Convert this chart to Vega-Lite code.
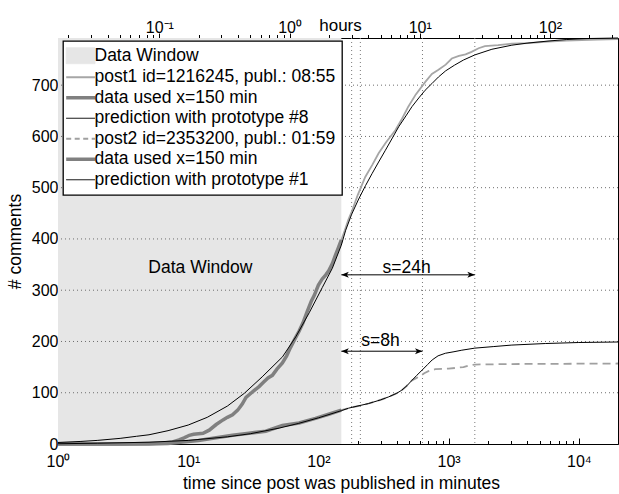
{
  "$schema": "https://vega.github.io/schema/vega-lite/v6.json",
  "width": 560,
  "height": 406,
  "autosize": {"type": "none"},
  "padding": {"left": 58, "top": 38, "right": 1, "bottom": 50},
  "background": "white",
  "config": {
    "font": "Liberation Sans",
    "view": {"stroke": "black", "strokeWidth": 1},
    "axis": {
      "labelColor": "black", "titleColor": "black", "titleFontWeight": "normal",
      "domainColor": "black", "tickColor": "black", "labelFontSize": 16, "titleFontSize": 17.5,
      "labelOverlap": false, "labelFlush": false, "zindex": 1, "labelFont": "Liberation Sans", "titleFont": "Liberation Sans", "grid": false
    }
  },
  "datasets": {
    "curves": [
      {"s": "b", "x": 1, "y": 0}, {"s": "b", "x": 3, "y": 0}, {"s": "b", "x": 5, "y": 1}, {"s": "b", "x": 6.5, "y": 2}, {"s": "b", "x": 7.6, "y": 4}, {"s": "b", "x": 8.5, "y": 8}, {"s": "b", "x": 9.3, "y": 12}, {"s": "b", "x": 10.2, "y": 17}, {"s": "b", "x": 11, "y": 19}, {"s": "b", "x": 12, "y": 20}, {"s": "b", "x": 13, "y": 21}, {"s": "b", "x": 14.5, "y": 27}, {"s": "b", "x": 16.4, "y": 38}, {"s": "b", "x": 18.5, "y": 47}, {"s": "b", "x": 20, "y": 52}, {"s": "b", "x": 21.9, "y": 57}, {"s": "b", "x": 24, "y": 66}, {"s": "b", "x": 26, "y": 78}, {"s": "b", "x": 27.8, "y": 91}, {"s": "b", "x": 30, "y": 98}, {"s": "b", "x": 32, "y": 104}, {"s": "b", "x": 35, "y": 112}, {"s": "b", "x": 38, "y": 121}, {"s": "b", "x": 41, "y": 129}, {"s": "b", "x": 44.3, "y": 134}, {"s": "b", "x": 48, "y": 146}, {"s": "b", "x": 52.9, "y": 158}, {"s": "b", "x": 57, "y": 172}, {"s": "b", "x": 61, "y": 188}, {"s": "b", "x": 66, "y": 205}, {"s": "b", "x": 71, "y": 220}, {"s": "b", "x": 76, "y": 236}, {"s": "b", "x": 82, "y": 258}, {"s": "b", "x": 88, "y": 278}, {"s": "b", "x": 93, "y": 290}, {"s": "b", "x": 100, "y": 310}, {"s": "b", "x": 107, "y": 322}, {"s": "b", "x": 114, "y": 330}, {"s": "b", "x": 120, "y": 338}, {"s": "b", "x": 128, "y": 352}, {"s": "b", "x": 135, "y": 368}, {"s": "b", "x": 142, "y": 382}, {"s": "b", "x": 150, "y": 398},
      {"s": "b", "x": 160, "y": 418}, {"s": "b", "x": 170, "y": 438}, {"s": "b", "x": 182, "y": 456}, {"s": "b", "x": 200, "y": 485}, {"s": "b", "x": 229, "y": 521}, {"s": "b", "x": 260, "y": 545}, {"s": "b", "x": 290, "y": 567}, {"s": "b", "x": 330, "y": 588}, {"s": "b", "x": 390, "y": 612}, {"s": "b", "x": 440, "y": 635}, {"s": "b", "x": 490, "y": 658}, {"s": "b", "x": 560, "y": 682}, {"s": "b", "x": 660, "y": 706}, {"s": "b", "x": 744, "y": 722}, {"s": "b", "x": 836, "y": 730}, {"s": "b", "x": 950, "y": 740}, {"s": "b", "x": 1058, "y": 752}, {"s": "b", "x": 1200, "y": 757}, {"s": "b", "x": 1350, "y": 760}, {"s": "b", "x": 1500, "y": 765}, {"s": "b", "x": 1700, "y": 772}, {"s": "b", "x": 1900, "y": 776}, {"s": "b", "x": 2400, "y": 778}, {"s": "b", "x": 3060, "y": 781}, {"s": "b", "x": 4100, "y": 782}, {"s": "b", "x": 5800, "y": 785}, {"s": "b", "x": 8000, "y": 787}, {"s": "b", "x": 13900, "y": 789}, {"s": "b", "x": 20000, "y": 790},

      {"s": "c", "x": 1, "y": 0}, {"s": "c", "x": 3, "y": 0}, {"s": "c", "x": 5, "y": 1}, {"s": "c", "x": 6.5, "y": 2}, {"s": "c", "x": 7.6, "y": 4}, {"s": "c", "x": 8.5, "y": 8}, {"s": "c", "x": 9.3, "y": 12}, {"s": "c", "x": 10.2, "y": 17}, {"s": "c", "x": 11, "y": 19}, {"s": "c", "x": 12, "y": 20}, {"s": "c", "x": 13, "y": 21}, {"s": "c", "x": 14.5, "y": 27}, {"s": "c", "x": 16.4, "y": 38}, {"s": "c", "x": 18.5, "y": 47}, {"s": "c", "x": 20, "y": 52}, {"s": "c", "x": 21.9, "y": 57}, {"s": "c", "x": 24, "y": 66}, {"s": "c", "x": 26, "y": 78}, {"s": "c", "x": 27.8, "y": 91}, {"s": "c", "x": 30, "y": 98}, {"s": "c", "x": 32, "y": 104}, {"s": "c", "x": 35, "y": 112}, {"s": "c", "x": 38, "y": 121}, {"s": "c", "x": 41, "y": 129}, {"s": "c", "x": 44.3, "y": 134}, {"s": "c", "x": 48, "y": 146}, {"s": "c", "x": 52.9, "y": 158}, {"s": "c", "x": 57, "y": 172}, {"s": "c", "x": 61, "y": 188}, {"s": "c", "x": 66, "y": 205}, {"s": "c", "x": 71, "y": 220}, {"s": "c", "x": 76, "y": 236}, {"s": "c", "x": 82, "y": 258}, {"s": "c", "x": 88, "y": 278}, {"s": "c", "x": 93, "y": 290}, {"s": "c", "x": 100, "y": 310}, {"s": "c", "x": 107, "y": 322}, {"s": "c", "x": 114, "y": 330}, {"s": "c", "x": 120, "y": 338}, {"s": "c", "x": 128, "y": 352}, {"s": "c", "x": 135, "y": 368}, {"s": "c", "x": 142, "y": 382}, {"s": "c", "x": 150, "y": 398},

      {"s": "d", "x": 1, "y": 3}, {"s": "d", "x": 1.5, "y": 5}, {"s": "d", "x": 2, "y": 7}, {"s": "d", "x": 3, "y": 11}, {"s": "d", "x": 4, "y": 15}, {"s": "d", "x": 5, "y": 18}, {"s": "d", "x": 7, "y": 26}, {"s": "d", "x": 10, "y": 37}, {"s": "d", "x": 14, "y": 52}, {"s": "d", "x": 20, "y": 74}, {"s": "d", "x": 27, "y": 99}, {"s": "d", "x": 37, "y": 131}, {"s": "d", "x": 53, "y": 170}, {"s": "d", "x": 67, "y": 209}, {"s": "d", "x": 85, "y": 256}, {"s": "d", "x": 107, "y": 305}, {"s": "d", "x": 128, "y": 343}, {"s": "d", "x": 150, "y": 388}, {"s": "d", "x": 162, "y": 417}, {"s": "d", "x": 180, "y": 448}, {"s": "d", "x": 204, "y": 478}, {"s": "d", "x": 230, "y": 504}, {"s": "d", "x": 259, "y": 528}, {"s": "d", "x": 290, "y": 550}, {"s": "d", "x": 327, "y": 573}, {"s": "d", "x": 370, "y": 597}, {"s": "d", "x": 414, "y": 619}, {"s": "d", "x": 470, "y": 640}, {"s": "d", "x": 523, "y": 658}, {"s": "d", "x": 590, "y": 675}, {"s": "d", "x": 660, "y": 690}, {"s": "d", "x": 744, "y": 703}, {"s": "d", "x": 836, "y": 716}, {"s": "d", "x": 950, "y": 728}, {"s": "d", "x": 1110, "y": 739}, {"s": "d", "x": 1300, "y": 749}, {"s": "d", "x": 1590, "y": 759}, {"s": "d", "x": 2150, "y": 770}, {"s": "d", "x": 3060, "y": 778}, {"s": "d", "x": 4000, "y": 782}, {"s": "d", "x": 5800, "y": 786}, {"s": "d", "x": 8000, "y": 789}, {"s": "d", "x": 12000, "y": 791}, {"s": "d", "x": 20000, "y": 792},

      {"s": "e", "x": 1, "y": 0}, {"s": "e", "x": 5, "y": 0}, {"s": "e", "x": 7, "y": 1}, {"s": "e", "x": 9.1, "y": 4}, {"s": "e", "x": 12, "y": 7}, {"s": "e", "x": 16.4, "y": 12}, {"s": "e", "x": 21.9, "y": 17}, {"s": "e", "x": 29.3, "y": 21}, {"s": "e", "x": 39.4, "y": 25}, {"s": "e", "x": 52.9, "y": 36}, {"s": "e", "x": 71, "y": 41}, {"s": "e", "x": 95, "y": 50}, {"s": "e", "x": 120, "y": 58}, {"s": "e", "x": 150, "y": 66},
      {"s": "e", "x": 171, "y": 70}, {"s": "e", "x": 210, "y": 75}, {"s": "e", "x": 243, "y": 79}, {"s": "e", "x": 300, "y": 86}, {"s": "e", "x": 347, "y": 92}, {"s": "e", "x": 400, "y": 99}, {"s": "e", "x": 437, "y": 105}, {"s": "e", "x": 480, "y": 114}, {"s": "e", "x": 522, "y": 124}, {"s": "e", "x": 560, "y": 128}, {"s": "e", "x": 600, "y": 132}, {"s": "e", "x": 650, "y": 138}, {"s": "e", "x": 700, "y": 142}, {"s": "e", "x": 790, "y": 146}, {"s": "e", "x": 1000, "y": 147}, {"s": "e", "x": 1300, "y": 150}, {"s": "e", "x": 1430, "y": 153}, {"s": "e", "x": 1590, "y": 155}, {"s": "e", "x": 3000, "y": 156}, {"s": "e", "x": 20000, "y": 157},

      {"s": "f", "x": 1, "y": 0}, {"s": "f", "x": 5, "y": 0}, {"s": "f", "x": 7, "y": 1}, {"s": "f", "x": 9.1, "y": 4}, {"s": "f", "x": 12, "y": 7}, {"s": "f", "x": 16.4, "y": 12}, {"s": "f", "x": 21.9, "y": 17}, {"s": "f", "x": 29.3, "y": 21}, {"s": "f", "x": 39.4, "y": 25}, {"s": "f", "x": 52.9, "y": 36}, {"s": "f", "x": 71, "y": 41}, {"s": "f", "x": 95, "y": 50}, {"s": "f", "x": 120, "y": 58}, {"s": "f", "x": 150, "y": 66},

      {"s": "g", "x": 1, "y": 0.5}, {"s": "g", "x": 2, "y": 1.5}, {"s": "g", "x": 5, "y": 3.5}, {"s": "g", "x": 10, "y": 7}, {"s": "g", "x": 20, "y": 14}, {"s": "g", "x": 30, "y": 20}, {"s": "g", "x": 50, "y": 31}, {"s": "g", "x": 70, "y": 40}, {"s": "g", "x": 100, "y": 51}, {"s": "g", "x": 150, "y": 65}, {"s": "g", "x": 171, "y": 70}, {"s": "g", "x": 243, "y": 79}, {"s": "g", "x": 300, "y": 86}, {"s": "g", "x": 347, "y": 92}, {"s": "g", "x": 400, "y": 99}, {"s": "g", "x": 437, "y": 105}, {"s": "g", "x": 480, "y": 114}, {"s": "g", "x": 522, "y": 124}, {"s": "g", "x": 570, "y": 134}, {"s": "g", "x": 625, "y": 144}, {"s": "g", "x": 690, "y": 155}, {"s": "g", "x": 748, "y": 164}, {"s": "g", "x": 830, "y": 172}, {"s": "g", "x": 945, "y": 177}, {"s": "g", "x": 1100, "y": 180}, {"s": "g", "x": 1263, "y": 183}, {"s": "g", "x": 1590, "y": 187}, {"s": "g", "x": 2200, "y": 190}, {"s": "g", "x": 3060, "y": 193}, {"s": "g", "x": 5530, "y": 196}, {"s": "g", "x": 10000, "y": 198}, {"s": "g", "x": 20000, "y": 199}
    ],
    "arrows": [
      {"x": 150, "xe": 1590, "y": 330},
      {"x": 150, "xe": 630, "y": 181}
    ],
    "notes": [
      {"x": 12.4, "y": 333, "t": "Data Window"},
      {"x": 476, "y": 333, "t": "s=24h"},
      {"x": 300, "y": 191.5, "t": "s=8h"}
    ],
    "vlines": [{"x": 180}, {"x": 210}, {"x": 630}, {"x": 1590}],
    "hlines": [{"y": 100}, {"y": 200}, {"y": 300}, {"y": 400}, {"y": 500}, {"y": 600}, {"y": 700}]
  },
  "layer": [
    {
      "layer": [
        {
          "data": {"values": [{"x": 1, "xe": 150}]},
          "mark": {"type": "rect", "color": "#e6e6e6"},
          "encoding": {
            "x": {
              "field": "x", "type": "quantitative",
              "scale": {"type": "log", "domain": [1, 20000], "nice": false},
              "axis": {
                "orient": "bottom",
                "values": [1,2,3,4,5,6,7,8,9,10,20,30,40,50,60,70,80,90,100,200,300,400,500,600,700,800,900,1000,2000,3000,4000,5000,6000,7000,8000,9000,10000],
                "labelExpr": "datum.value == 1 ? '10⁰' : datum.value == 10 ? '10¹' : datum.value == 100 ? '10²' : datum.value == 1000 ? '10³' : datum.value == 10000 ? '10⁴' : ''",
                "tickSize": {"condition": {"test": "abs(log(datum.value)/LN10 - round(log(datum.value)/LN10)) < 0.001", "value": -6}, "value": -3.5},
                "grid": false,
                "labelPadding": 15,
                "title": "time since post was published in minutes",
                "titleX": 283, "titleY": 44, "titleBaseline": "alphabetic", "titleAlign": "center"
              }
            },
            "x2": {"field": "xe"},
            "y": {"datum": 0, "type": "quantitative", "scale": {"domain": [0, 792], "nice": false}},
            "y2": {"datum": 792}
          }
        },
        {
          "data": {"name": "hlines"},
          "mark": {"type": "rule", "color": "#6e6e6e", "strokeDash": [1, 3], "strokeWidth": 1},
          "encoding": {"y": {"field": "y", "type": "quantitative", "scale": {"domain": [0, 792], "nice": false}}}
        },
        {
          "data": {"name": "vlines"},
          "mark": {"type": "rule", "color": "#7a7a7a", "strokeDash": [1, 3], "strokeWidth": 1},
          "encoding": {"x": {"field": "x", "type": "quantitative", "scale": {"type": "log", "domain": [1, 20000], "nice": false}}}
        },
        {
          "data": {"name": "curves"},
          "transform": [{"filter": "datum.s === 'b'"}],
          "mark": {"type": "line", "strokeWidth": 1.8},
          "encoding": {
            "x": {"field": "x", "type": "quantitative", "scale": {"type": "log", "domain": [1, 20000], "nice": false}},
            "y": {
              "field": "y", "type": "quantitative", "scale": {"domain": [0, 792], "nice": false},
              "axis": {
                "values": [0,100,200,300,400,500,600,700],
                "tickSize": -4,
                "labelPadding": 4,
                "grid": false,
                "title": "# comments",
                "titleX": -38, "titleY": 203, "titleBaseline": "alphabetic", "titleAlign": "center", "titleAngle": -90
              }
            },
            "color": {
              "field": "s", "type": "nominal",
              "scale": {"domain": ["a","b","c","d","e","f","g"], "range": ["#e6e6e6","#a6a6a6","#808080","#000000","#a0a0a0","#808080","#000000"]},
              "legend": {
                "orient": "none", "legendX": 5, "legendY": 3, "title": null,
                "labelExpr": "datum.value == 'a' ? 'Data Window' : datum.value == 'b' ? 'post1 id=1216245, publ.: 08:55' : datum.value == 'c' ? 'data used x=150 min' : datum.value == 'd' ? 'prediction with prototype #8' : datum.value == 'e' ? 'post2 id=2353200, publ.: 01:59' : datum.value == 'f' ? 'data used x=150 min' : 'prediction with prototype #1'",
                "labelFontSize": 17.5, "labelColor": "black", "labelFont": "Liberation Sans",
                "labelOffset": 8, "labelLimit": 400,
                "symbolSize": 441, "rowPadding": 1.5, "padding": 6,
                "fillColor": "white", "strokeColor": "black", "zindex": 2,
                "encode": {
                  "legend": {"update": {"strokeWidth": {"value": 1.3}}},
                  "symbols": {
                    "update": {
                      "shape": {"signal": "datum.value == 'a' ? 'M-1.1,-0.76H1.64V0.76H-1.1Z' : 'M-1.1,0H1.64'"},
                      "fill": {"signal": "datum.value == 'a' ? '#e6e6e6' : 'transparent'"},
                      "stroke": {"signal": "datum.value == 'a' ? 'transparent' : datum.value == 'b' ? '#a6a6a6' : datum.value == 'e' ? '#a0a0a0' : (datum.value == 'c' || datum.value == 'f') ? '#808080' : '#000000'"},
                      "strokeWidth": {"signal": "(datum.value == 'c' || datum.value == 'f') ? 3.5 : (datum.value == 'b' || datum.value == 'e') ? 1.8 : 1"},
                      "strokeDash": {"signal": "datum.value == 'e' ? [5, 3.5] : [1, 0]"},
                      "opacity": {"value": 1}
                    }
                  }
                }
              }
            }
          }
        },
        {
          "data": {"name": "curves"},
          "transform": [{"filter": "datum.s === 'e'"}],
          "mark": {"type": "line", "strokeWidth": 1.8, "strokeDash": [8, 5]},
          "encoding": {
            "x": {"field": "x", "type": "quantitative", "scale": {"type": "log", "domain": [1, 20000], "nice": false}},
            "y": {"field": "y", "type": "quantitative", "scale": {"domain": [0, 792], "nice": false}},
            "color": {"field": "s", "type": "nominal"}
          }
        },
        {
          "data": {"name": "curves"},
          "transform": [{"filter": "datum.s === 'c' || datum.s === 'f'"}],
          "mark": {"type": "line", "strokeWidth": 3.5},
          "encoding": {
            "x": {"field": "x", "type": "quantitative", "scale": {"type": "log", "domain": [1, 20000], "nice": false}},
            "y": {"field": "y", "type": "quantitative", "scale": {"domain": [0, 792], "nice": false}},
            "color": {"field": "s", "type": "nominal"}
          }
        },
        {
          "data": {"name": "curves"},
          "transform": [{"filter": "datum.s === 'd' || datum.s === 'g'"}],
          "mark": {"type": "line", "strokeWidth": 1},
          "encoding": {
            "x": {"field": "x", "type": "quantitative", "scale": {"type": "log", "domain": [1, 20000], "nice": false}},
            "y": {"field": "y", "type": "quantitative", "scale": {"domain": [0, 792], "nice": false}},
            "color": {"field": "s", "type": "nominal"}
          }
        },
        {
          "data": {"name": "arrows"},
          "mark": {"type": "rule", "color": "black", "strokeWidth": 1},
          "encoding": {
            "x": {"field": "x", "type": "quantitative", "scale": {"type": "log", "domain": [1, 20000], "nice": false}},
            "x2": {"field": "xe"},
            "y": {"field": "y", "type": "quantitative", "scale": {"domain": [0, 792], "nice": false}}
          }
        },
        {
          "data": {"name": "arrows"},
          "mark": {"type": "point", "shape": "M0,0L1.5,-0.6L1.1,0L1.5,0.6Z", "size": 100, "filled": true, "color": "black", "opacity": 1},
          "encoding": {
            "x": {"field": "x", "type": "quantitative", "scale": {"type": "log", "domain": [1, 20000], "nice": false}},
            "y": {"field": "y", "type": "quantitative", "scale": {"domain": [0, 792], "nice": false}}
          }
        },
        {
          "data": {"name": "arrows"},
          "mark": {"type": "point", "shape": "M0,0L-1.5,-0.6L-1.1,0L-1.5,0.6Z", "size": 100, "filled": true, "color": "black", "opacity": 1},
          "encoding": {
            "x": {"field": "xe", "type": "quantitative", "scale": {"type": "log", "domain": [1, 20000], "nice": false}},
            "y": {"field": "y", "type": "quantitative", "scale": {"domain": [0, 792], "nice": false}}
          }
        },
        {
          "data": {"name": "notes"},
          "mark": {"type": "text", "fontSize": 17.5, "baseline": "alphabetic", "align": "center", "color": "black", "font": "Liberation Sans"},
          "encoding": {
            "x": {"field": "x", "type": "quantitative", "scale": {"type": "log", "domain": [1, 20000], "nice": false}},
            "y": {"field": "y", "type": "quantitative", "scale": {"domain": [0, 792], "nice": false}},
            "text": {"field": "t"}
          }
        }
      ]
    },
    {
      "data": {"values": [{"h": 1}]},
      "mark": {"type": "rule", "opacity": 0},
      "encoding": {
        "x": {
          "field": "h", "type": "quantitative",
          "scale": {"type": "log", "domain": [0.016666667, 333.33333], "nice": false},
          "axis": {
            "orient": "top",
            "values": [0.02,0.03,0.04,0.05,0.06,0.07,0.08,0.09,0.1,0.2,0.3,0.4,0.5,0.6,0.7,0.8,0.9,1,2,3,4,5,6,7,8,9,10,20,30,40,50,60,70,80,90,100,200,300],
            "labelExpr": "datum.value == 0.1 ? '10⁻¹' : datum.value == 1 ? '10⁰' : datum.value == 10 ? '10¹' : datum.value == 100 ? '10²' : ''",
            "tickSize": {"condition": {"test": "abs(log(datum.value)/LN10 - round(log(datum.value)/LN10)) < 0.001", "value": 5}, "value": 3.5},
            "labelPadding": -2,
            "grid": false,
            "title": "hours",
            "titleX": 282, "titleY": -8, "titleBaseline": "alphabetic", "titleAlign": "center", "titleFontSize": 17
          }
        }
      }
    }
  ],
  "resolve": {"scale": {"x": "independent"}}
}
